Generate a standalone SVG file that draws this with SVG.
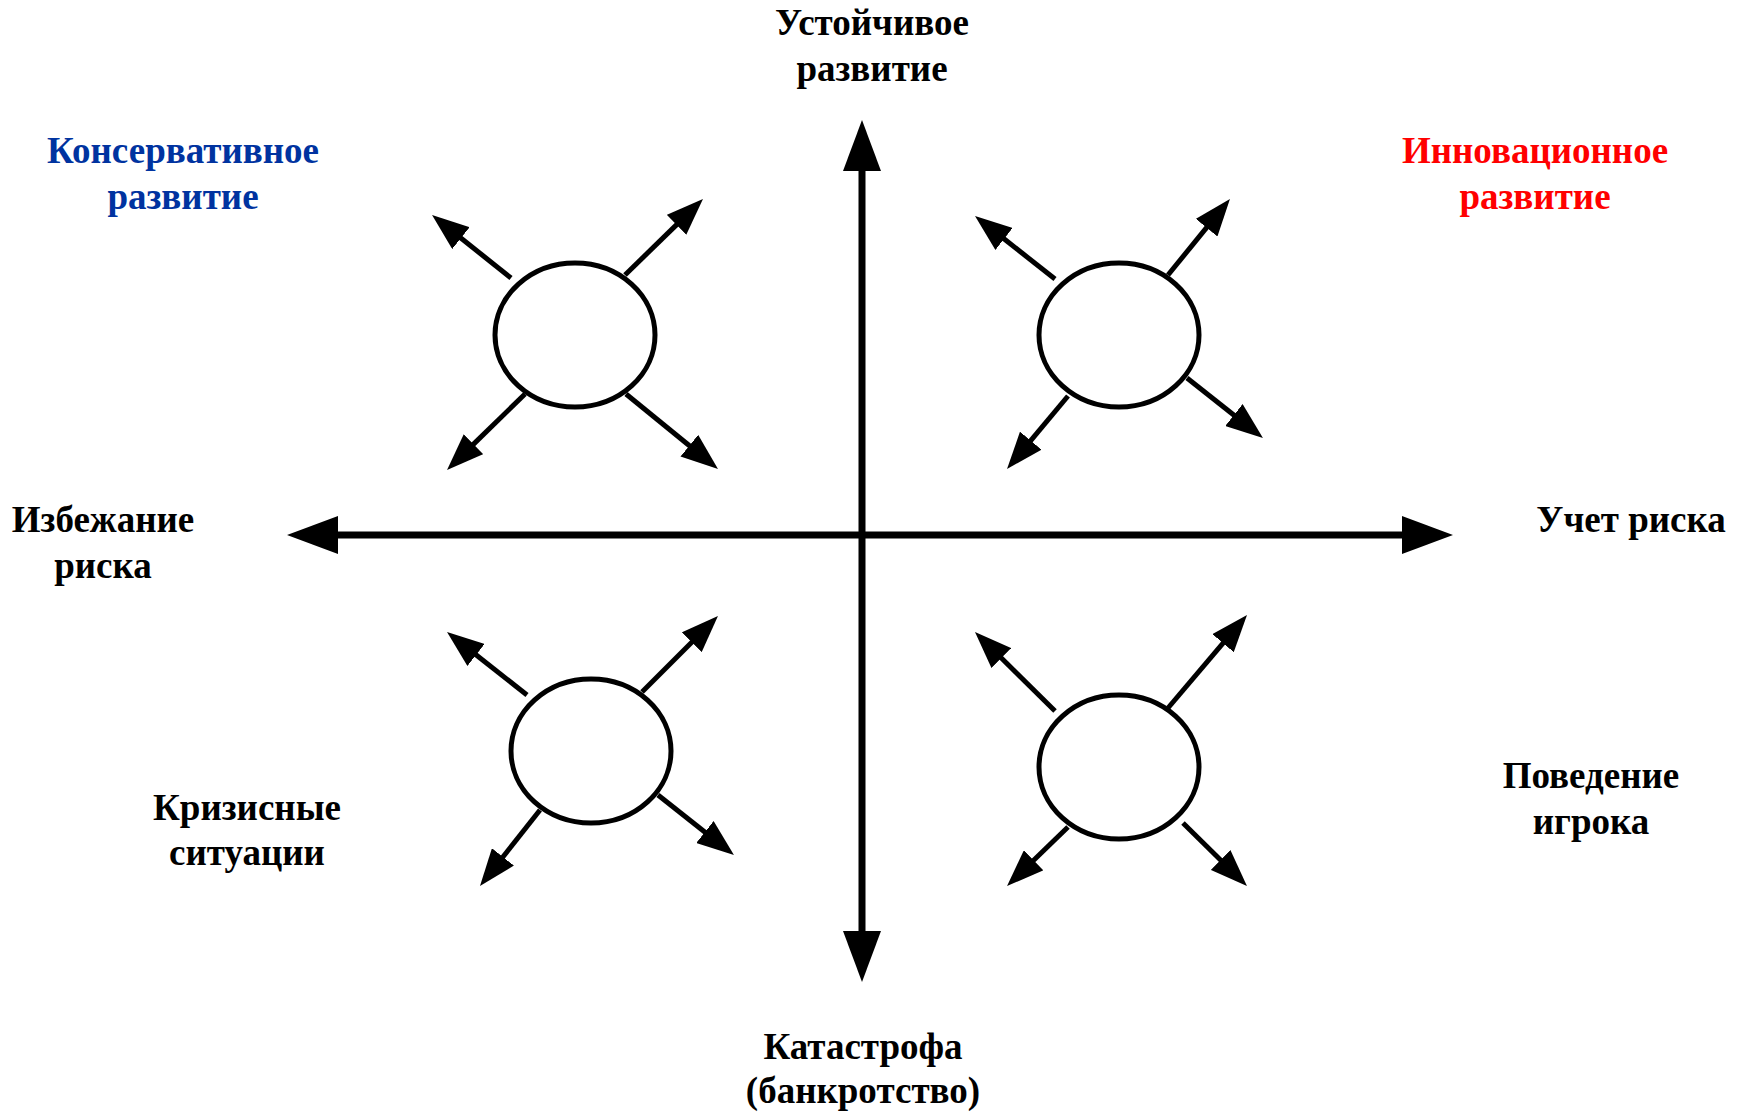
<svg xmlns="http://www.w3.org/2000/svg" width="1746" height="1112" viewBox="0 0 1746 1112">
  <style>
    .lbl { font-family: "Liberation Serif", "Times New Roman", serif; font-weight: bold; font-size: 37px; text-anchor: middle; fill: #000; }
    .blue { fill: #0033A0; }
    .red { fill: #FF0000; }
    .axis { stroke: #000; stroke-width: 7; fill: none; marker-start: url(#bigHead); marker-end: url(#bigHead); }
    .ray { stroke: #000; stroke-width: 5; fill: none; marker-end: url(#smallHead); }
    .player { fill: #fff; stroke: #000; stroke-width: 5; }
  </style>
  <defs>
    <marker id="bigHead" markerUnits="userSpaceOnUse" viewBox="0 -19 52 38" markerWidth="52" markerHeight="38" refX="1" refY="0" orient="auto-start-reverse">
      <path d="M0,-19 L51,0 L0,19 z" fill="#000"/>
    </marker>
    <marker id="smallHead" markerUnits="userSpaceOnUse" viewBox="0 -14 38 28" markerWidth="38" markerHeight="28" refX="1" refY="0" orient="auto">
      <path d="M0,-14 L37,0 L0,14 z" fill="#000"/>
    </marker>
  </defs>

  <rect width="1746" height="1112" fill="#fff"/>

  <!-- coordinate axes -->
  <g id="axes">
    <line class="axis" x1="862" y1="932" x2="862" y2="170"/>
    <line class="axis" x1="1403" y1="535" x2="337" y2="535"/>
  </g>

  <!-- players: circle with four outgoing rays -->
  <g id="player-q1">
    <ellipse class="player" cx="575" cy="335" rx="80" ry="72"/>
  </g>
  <g id="player-q2">
    <ellipse class="player" cx="1119" cy="335" rx="80" ry="72"/>
  </g>
  <g id="player-q3">
    <ellipse class="player" cx="591" cy="751" rx="80" ry="72"/>
  </g>
  <g id="player-q4">
    <ellipse class="player" cx="1119" cy="767" rx="80" ry="72"/>
  </g>

  <g id="connectors">
    <line class="ray" x1="511" y1="278" x2="460.2" y2="237.5"/>
    <line class="ray" x1="625" y1="275" x2="677.2" y2="224.1"/>
    <line class="ray" x1="525" y1="394" x2="472.8" y2="444.9"/>
    <line class="ray" x1="626" y1="394" x2="690.1" y2="446.3"/>

    <line class="ray" x1="1055" y1="279" x2="1003.3" y2="238.3"/>
    <line class="ray" x1="1168" y1="275" x2="1207.2" y2="226.9"/>
    <line class="ray" x1="1068" y1="396" x2="1030.1" y2="441.4"/>
    <line class="ray" x1="1187" y1="378" x2="1234.7" y2="415.7"/>

    <line class="ray" x1="527" y1="695" x2="475.3" y2="654.3"/>
    <line class="ray" x1="642" y1="692" x2="692.5" y2="641.5"/>
    <line class="ray" x1="540" y1="810" x2="502.3" y2="857.7"/>
    <line class="ray" x1="658" y1="795" x2="705.7" y2="832.7"/>

    <line class="ray" x1="1055" y1="711" x2="1000.6" y2="657.3"/>
    <line class="ray" x1="1168" y1="708" x2="1223.7" y2="642.4"/>
    <line class="ray" x1="1068" y1="827" x2="1032.9" y2="861"/>
    <line class="ray" x1="1183" y1="823" x2="1221.3" y2="860.7"/>
  </g>

  <!-- axis and quadrant labels -->
  <g id="label-top">
    <text class="lbl" x="872" y="35">Устойчивое</text>
    <text class="lbl" x="872" y="81">развитие</text>
  </g>
  <g id="label-bottom">
    <text class="lbl" x="863" y="1059">Катастрофа</text>
    <text class="lbl" x="863" y="1103">(банкротство)</text>
  </g>
  <g id="label-left">
    <text class="lbl" x="103" y="532">Избежание</text>
    <text class="lbl" x="103" y="578">риска</text>
  </g>
  <g id="label-right">
    <text class="lbl" x="1631" y="532">Учет риска</text>
  </g>
  <g id="label-conservative">
    <text class="lbl blue" x="183" y="163">Консервативное</text>
    <text class="lbl blue" x="183" y="209">развитие</text>
  </g>
  <g id="label-innovative">
    <text class="lbl red" x="1535" y="163">Инновационное</text>
    <text class="lbl red" x="1535" y="209">развитие</text>
  </g>
  <g id="label-crisis">
    <text class="lbl" x="247" y="820">Кризисные</text>
    <text class="lbl" x="247" y="865">ситуации</text>
  </g>
  <g id="label-behaviour">
    <text class="lbl" x="1591" y="788">Поведение</text>
    <text class="lbl" x="1591" y="834">игрока</text>
  </g>
</svg>
